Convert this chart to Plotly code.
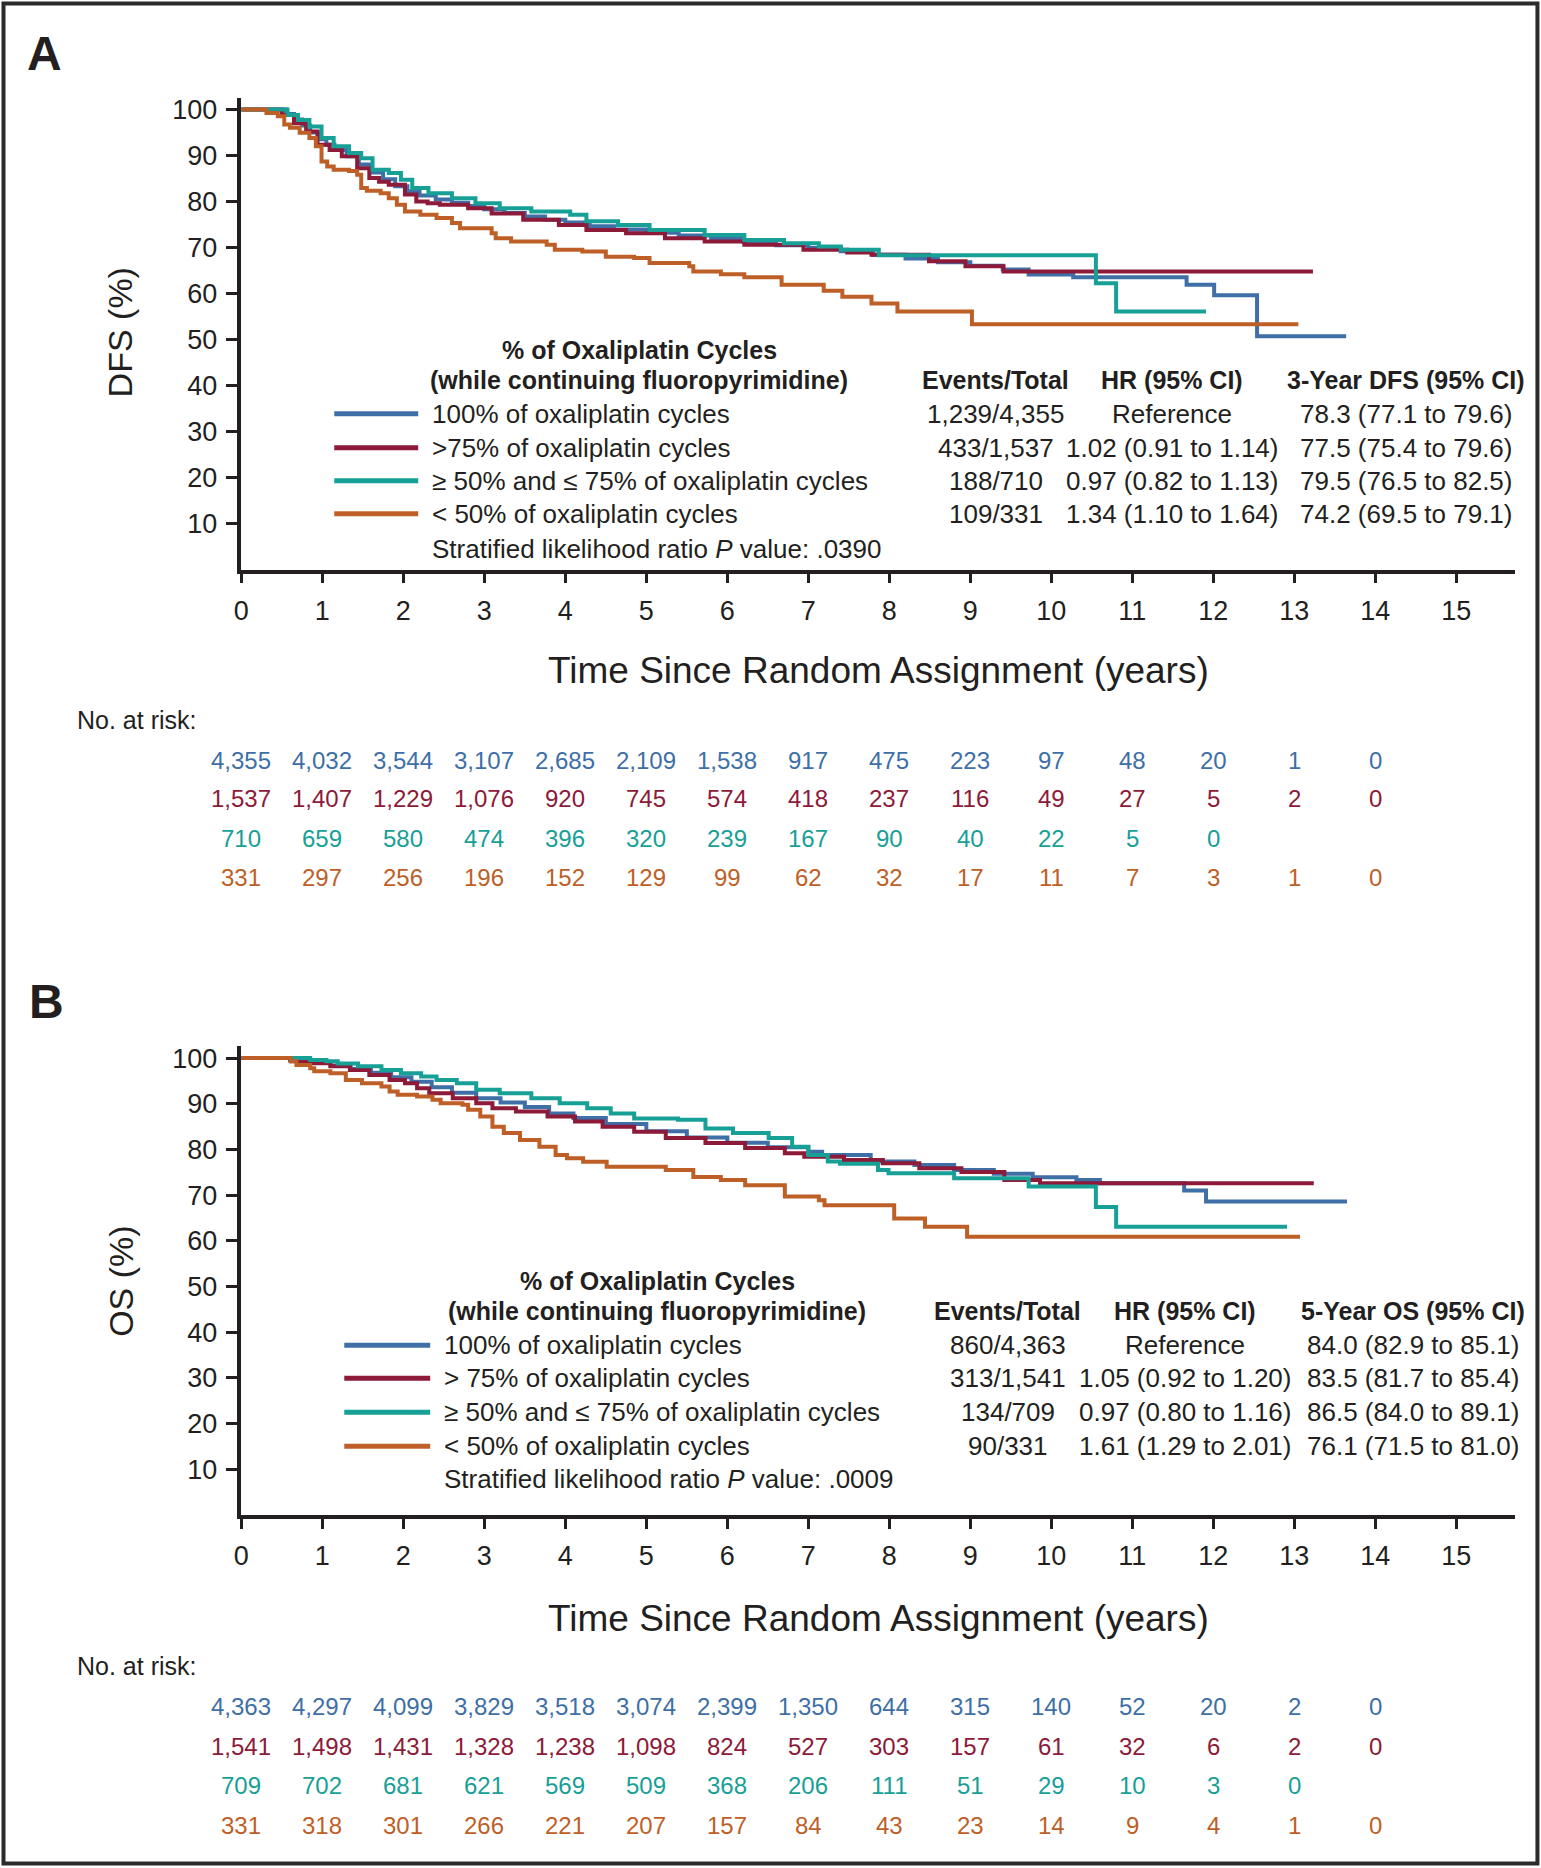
import plotly.graph_objects as go

W, H = 1541, 1868

# ---------------- data ----------------
x_ticks = list(range(16))
y_ticks = list(range(10, 101, 10))

group_names_a = ["100% of oxaliplatin cycles", ">75% of oxaliplatin cycles",
                 "\u2265 50% and \u2264 75% of oxaliplatin cycles", "< 50% of oxaliplatin cycles"]
group_names_b = ["100% of oxaliplatin cycles", "> 75% of oxaliplatin cycles",
                 "\u2265 50% and \u2264 75% of oxaliplatin cycles", "< 50% of oxaliplatin cycles"]

events_a = ["1,239/4,355", "433/1,537", "188/710", "109/331"]
hr_a = ["Reference", "1.02 (0.91 to 1.14)", "0.97 (0.82 to 1.13)", "1.34 (1.10 to 1.64)"]
dfs3_a = ["78.3 (77.1 to 79.6)", "77.5 (75.4 to 79.6)", "79.5 (76.5 to 82.5)", "74.2 (69.5 to 79.1)"]

events_b = ["860/4,363", "313/1,541", "134/709", "90/331"]
hr_b = ["Reference", "1.05 (0.92 to 1.20)", "0.97 (0.80 to 1.16)", "1.61 (1.29 to 2.01)"]
os5_b = ["84.0 (82.9 to 85.1)", "83.5 (81.7 to 85.4)", "86.5 (84.0 to 89.1)", "76.1 (71.5 to 81.0)"]

# DFS curves (panel A): time (years), survival (%)
dfs_t_100 = [0, 0.45, 0.55, 0.65, 0.75, 0.85, 0.95, 1.05, 1.15, 1.3, 1.45, 1.6, 1.75, 1.9, 2.05, 2.2, 2.4, 2.6,
             2.8, 3.0, 3.25, 3.5, 3.75, 4.0, 4.3, 4.6, 5.0, 5.4, 5.8, 6.2, 6.6, 7.0, 7.4, 7.8, 8.2, 8.6, 9.0, 9.4,
             9.72, 10.27, 11.67, 12.01, 12.54, 13.64]
dfs_s_100 = [100, 100, 99, 97.8, 96.5, 95, 93.5, 92.3, 91.2, 89.8, 88, 86.3, 84.8, 83.3, 82.2, 81.3, 80.4, 79.7,
             79, 78.3, 77.5, 76.7, 76, 75.4, 74.6, 73.9, 73.2, 72.6, 71.9, 71.2, 70.5, 69.9, 69.2, 68.4, 67.6, 66.8,
             66.0, 65.2, 64.1, 63.5, 61.9, 59.6, 50.7, 50.7]

dfs_t_75 = [0, 0.40, 0.50, 0.65, 0.80, 0.94, 1.09, 1.24, 1.43, 1.58, 1.70, 1.82, 2.02, 2.16, 2.30, 2.45, 2.80, 3.09,
            3.48, 3.92, 4.26, 4.75, 5.23, 5.72, 6.21, 6.94, 7.48, 7.78, 8.49, 8.94, 9.41, 13.23]
dfs_s_75 = [100, 100, 98.8, 97.0, 95.2, 92.3, 91.2, 89.8, 87.2, 85.1, 84.3, 83.6, 81.5, 80.0, 79.6, 79.3, 78.5, 77.4,
            76.0, 74.9, 73.8, 73.1, 72.0, 71.3, 70.6, 69.5, 68.9, 68.4, 67.0, 65.9, 64.8, 64.8]

dfs_t_50 = [0, 0.45, 0.57, 0.70, 0.84, 0.99, 1.14, 1.33, 1.48, 1.62, 1.82, 1.97, 2.11, 2.31, 2.60, 2.89, 3.19, 3.58,
            4.06, 4.26, 4.65, 5.04, 5.72, 6.21, 6.70, 7.13, 7.40, 7.87, 10.55, 10.80, 11.91]
dfs_s_50 = [100, 100, 98.8, 97.7, 96.3, 93.8, 92.0, 90.5, 89.4, 86.9, 86.2, 84.7, 82.9, 81.8, 80.7, 79.6, 78.5, 77.8,
            77.1, 75.7, 74.9, 73.8, 72.7, 71.6, 70.9, 70.2, 69.5, 68.3, 62.2, 56.1, 56.1]

dfs_t_lt50 = [0, 0.31, 0.45, 0.53, 0.60, 0.72, 0.84, 0.92, 0.99, 1.06, 1.14, 1.33, 1.43, 1.48, 1.55, 1.72, 1.82,
              1.92, 2.02, 2.21, 2.41, 2.60, 2.70, 3.09, 3.14, 3.33, 3.77, 3.87, 4.21, 4.50, 4.85, 5.04, 5.53, 5.58,
              5.92, 6.21, 6.67, 7.19, 7.42, 7.78, 8.10, 9.02, 13.05]
dfs_s_lt50 = [100, 99.2, 98.5, 96.7, 96.0, 94.9, 93.8, 92.0, 88.7, 87.6, 86.9, 86.6, 85.8, 82.9, 82.3, 81.8, 80.7,
              79.3, 77.8, 77.1, 76.4, 75.3, 74.2, 73.1, 72.0, 71.3, 70.6, 69.5, 69.1, 68.0, 67.7, 66.6, 65.9, 64.8,
              64.2, 63.5, 61.9, 60.6, 59.3, 57.8, 56.1, 53.3, 53.3]

# OS curves (panel B)
os_t_100 = [0, 0.45, 0.6, 0.85, 1.1, 1.35, 1.6, 1.85, 2.1, 2.35, 2.6, 2.9, 3.2, 3.5, 3.8, 4.1, 4.5, 5.0, 5.5, 6.0,
            6.5, 7.0, 7.17, 7.77, 8.31, 8.80, 9.29, 9.77, 10.31, 10.6, 11.64, 11.91, 13.65]
os_s_100 = [100, 100, 99.6, 99.0, 98.4, 97.6, 96.8, 95.8, 94.8, 93.6, 92.4, 91.2, 90.3, 89.3, 87.9, 86.9, 85.6, 84.0,
            82.6, 81.5, 80.5, 79.5, 78.8, 77.4, 76.6, 75.5, 74.7, 73.9, 73.3, 72.6, 71.0, 68.6, 68.6]

os_t_75 = [0, 0.41, 0.61, 0.85, 1.10, 1.34, 1.58, 1.83, 2.02, 2.17, 2.32, 2.61, 2.90, 3.10, 3.39, 3.78, 4.12, 4.46,
           4.85, 5.24, 5.73, 6.22, 6.71, 6.95, 7.44, 7.92, 8.37, 8.89, 9.42, 9.86, 13.24]
os_s_75 = [100, 100, 99.3, 98.9, 98.2, 97.4, 96.3, 95.2, 94.5, 93.4, 92.3, 91.2, 90.1, 89.0, 88.3, 87.2, 86.1, 85.0,
           83.9, 82.5, 81.4, 80.3, 79.2, 78.4, 77.7, 77.0, 75.9, 75.1, 73.3, 72.6, 72.6]

os_t_50 = [0, 0.85, 1.05, 1.19, 1.44, 1.73, 1.97, 2.22, 2.41, 2.66, 2.90, 3.19, 3.58, 3.93, 4.27, 4.56, 4.85, 5.39,
           5.73, 6.07, 6.51, 6.80, 7.00, 7.24, 7.39, 7.86, 7.99, 8.80, 9.72, 10.55, 10.80, 12.91]
os_s_50 = [100, 99.6, 99.3, 98.8, 98.2, 97.4, 96.7, 96.0, 95.2, 94.5, 93.1, 92.3, 91.2, 90.1, 89.0, 87.9, 86.8, 86.5,
           84.6, 83.6, 82.5, 80.6, 78.8, 77.4, 76.9, 75.5, 74.8, 73.7, 71.9, 67.4, 63.1, 63.1]

os_t_lt50 = [0, 0.46, 0.61, 0.68, 0.85, 0.90, 1.10, 1.29, 1.49, 1.73, 1.83, 1.93, 2.17, 2.36, 2.46, 2.73, 2.80, 2.95,
             3.10, 3.24, 3.44, 3.68, 3.88, 4.02, 4.22, 4.51, 5.24, 5.58, 5.92, 6.22, 6.71, 7.13, 7.20, 8.06, 8.44,
             8.96, 13.07]
os_s_lt50 = [100, 100, 99.3, 98.5, 97.8, 97.1, 96.7, 95.2, 94.5, 93.8, 92.7, 92.0, 91.6, 90.9, 90.1, 89.8, 88.7, 87.2,
             85.0, 83.6, 82.1, 80.6, 78.8, 78.1, 77.3, 76.2, 75.5, 74.0, 73.3, 72.2, 69.7, 68.9, 67.8, 64.9, 63.1,
             60.9, 60.9]

# Numbers at risk
risk_a_100 = ["4,355", "4,032", "3,544", "3,107", "2,685", "2,109", "1,538", "917", "475", "223", "97", "48", "20", "1", "0"]
risk_a_75 = ["1,537", "1,407", "1,229", "1,076", "920", "745", "574", "418", "237", "116", "49", "27", "5", "2", "0"]
risk_a_50 = ["710", "659", "580", "474", "396", "320", "239", "167", "90", "40", "22", "5", "0"]
risk_a_lt50 = ["331", "297", "256", "196", "152", "129", "99", "62", "32", "17", "11", "7", "3", "1", "0"]

risk_b_100 = ["4,363", "4,297", "4,099", "3,829", "3,518", "3,074", "2,399", "1,350", "644", "315", "140", "52", "20", "2", "0"]
risk_b_75 = ["1,541", "1,498", "1,431", "1,328", "1,238", "1,098", "824", "527", "303", "157", "61", "32", "6", "2", "0"]
risk_b_50 = ["709", "702", "681", "621", "569", "509", "368", "206", "111", "51", "29", "10", "3", "0"]
risk_b_lt50 = ["331", "318", "301", "266", "221", "207", "157", "84", "43", "23", "14", "9", "4", "1", "0"]

# ---------------- style ----------------
COLORS = ["#3e6fa6", "#8c1a38", "#17a096", "#be5f28"]
INK = "#231f20"
FONT = "Liberation Sans, Arial, Helvetica, sans-serif"

# small correction for how the page is photographed (horizontal squeeze / offset)
SX, OX = 0.9955, 6.5
OY = 1.5


def px(xf):
    return ((xf - OX) / SX) / W


def py(yf):
    return 1 - (yf - OY) / H


fig = go.Figure()

curves_a = [(dfs_t_100, dfs_s_100), (dfs_t_75, dfs_s_75), (dfs_t_50, dfs_s_50), (dfs_t_lt50, dfs_s_lt50)]
curves_b = [(os_t_100, os_s_100), (os_t_75, os_s_75), (os_t_50, os_s_50), (os_t_lt50, os_s_lt50)]

for (t, s), c in zip(curves_a, COLORS):
    fig.add_trace(go.Scatter(x=t, y=s, mode="lines", line=dict(color=c, width=4, shape="hv"),
                             xaxis="x", yaxis="y", showlegend=False, hoverinfo="skip"))
for (t, s), c in zip(curves_b, COLORS):
    fig.add_trace(go.Scatter(x=t, y=s, mode="lines", line=dict(color=c, width=4, shape="hv"),
                             xaxis="x2", yaxis="y2", showlegend=False, hoverinfo="skip"))

x_dom = [px(240), px(1515)]
xaxis_common = dict(range=[0, 15.73], domain=x_dom, tickvals=x_ticks, ticks="outside", ticklen=10, tickwidth=2.5,
                    tickcolor=INK, showline=True, linewidth=3.5, linecolor=INK, showgrid=False, zeroline=False,
                    tickfont=dict(family=FONT, size=27, color=INK), ticklabelstandoff=4, fixedrange=True)
yaxis_common = dict(tickvals=y_ticks, ticks="outside", ticklen=12, tickwidth=2.5, tickcolor=INK, showline=True,
                    linewidth=3.5, linecolor=INK, showgrid=False, zeroline=False,
                    tickfont=dict(family=FONT, size=27, color=INK), ticklabelstandoff=3, fixedrange=True)

fig.update_layout(
    width=W, height=H, margin=dict(l=0, r=0, t=0, b=0), paper_bgcolor="white", plot_bgcolor="white",
    xaxis=dict(xaxis_common, anchor="y"),
    yaxis=dict(yaxis_common, range=[0, 102.4], domain=[py(569), py(97)], anchor="x"),
    xaxis2=dict(xaxis_common, anchor="y2"),
    yaxis2=dict(yaxis_common, range=[0, 102.6], domain=[py(1516), py(1046.4)], anchor="x2"),
)

ann = []
shapes = []


def text(xf, yf, s, size=26, bold=False, anchor="left", color=INK, family=FONT, angle=0):
    ann.append(dict(x=px(xf), y=py(yf), xref="paper", yref="paper", text=(f"<b>{s}</b>" if bold else s),
                    showarrow=False, xanchor=anchor, yanchor="middle", textangle=angle,
                    font=dict(family=family, size=size, color=color)))


# panel labels
text(43, 52, "A", size=48, bold=True, anchor="center")
text(45, 1002, "B", size=48, bold=True, anchor="center")

# axis titles
text(878, 670, "Time Since Random Assignment (years)", size=37, anchor="center")
text(878, 1620, "Time Since Random Assignment (years)", size=37, anchor="center")
text(119, 331, "DFS (%)", size=34, anchor="center", angle=-90)
text(120, 1282, "OS (%)", size=34, anchor="center", angle=-90)


# legend tables
def legend_table(hx, hy1, hy2, cols, col_heads, rows_y, lx0, lx1, tx, names, c1, c2, c3, py_, pval):
    text(hx, hy1, "% of Oxaliplatin Cycles", size=25, bold=True, anchor="center")
    text(hx, hy2, "(while continuing fluoropyrimidine)", size=25, bold=True, anchor="center")
    for cx, h in zip(cols, col_heads):
        text(cx, hy2, h, size=25, bold=True, anchor="center")
    for i, ry in enumerate(rows_y):
        shapes.append(dict(type="line", xref="paper", yref="paper", x0=px(lx0), x1=px(lx1), y0=py(ry), y1=py(ry),
                           line=dict(color=COLORS[i], width=5)))
        text(tx, ry, names[i], size=26)
        text(cols[0], ry, c1[i], size=26, anchor="center")
        text(cols[1], ry, c2[i], size=26, anchor="center")
        text(cols[2], ry, c3[i], size=26, anchor="center")
    text(tx, py_, "Stratified likelihood ratio <i>P</i> value: " + pval, size=26)


legend_table(638, 349, 379, [995, 1171, 1405], ["Events/Total", "HR (95% CI)", "3-Year DFS (95% CI)"],
             [413, 447, 480, 513], 333, 417, 429, group_names_a, events_a, hr_a, dfs3_a, 548, ".0390")
legend_table(656, 1282, 1312, [1007, 1184, 1412], ["Events/Total", "HR (95% CI)", "5-Year OS (95% CI)"],
             [1346, 1379, 1413, 1447], 343, 429, 441, group_names_b, events_b, hr_b, os5_b, 1480, ".0009")

# numbers at risk
text(74, 720, "No. at risk:", size=25)
text(74, 1667, "No. at risk:", size=25)


def risk_rows(xref, rows, ys):
    for r, yv, c in zip(rows, ys, COLORS):
        for yr, v in zip(x_ticks, r):
            ann.append(dict(x=yr, y=py(yv), xref=xref, yref="paper", text=v, showarrow=False, xanchor="center",
                            yanchor="middle", font=dict(family=FONT, size=24, color=c)))


risk_rows("x", [risk_a_100, risk_a_75, risk_a_50, risk_a_lt50], [760, 798, 838, 877])
risk_rows("x2", [risk_b_100, risk_b_75, risk_b_50, risk_b_lt50], [1708, 1748, 1787, 1827])

# outer frame
shapes.append(dict(type="rect", xref="paper", yref="paper", x0=px(2), x1=px(1537), y0=py(1865), y1=py(2),
                   line=dict(color="#2b2b2b", width=4)))

fig.update_layout(annotations=ann, shapes=shapes)
fig.write_html("out.html", config={"displayModeBar": False},
               post_script="document.body.style.margin='0';document.body.style.overflow='hidden';")
